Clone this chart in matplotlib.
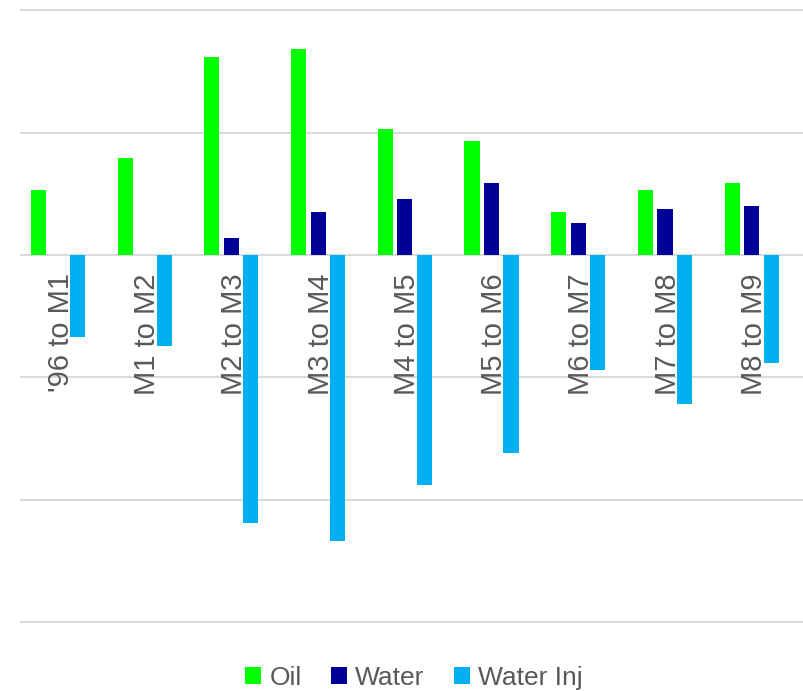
"""Grouped bar chart of oil, water and water injection changes between months."""
import matplotlib.pyplot as plt
import numpy as np
from matplotlib.patches import Patch

plt.rcParams['font.family'] = ['Liberation Sans', 'DejaVu Sans']

periods = ["'96 to M1", 'M1 to M2', 'M2 to M3', 'M3 to M4', 'M4 to M5',
           'M5 to M6', 'M6 to M7', 'M7 to M8', 'M8 to M9']
oil = [0.53, 0.79, 1.62, 1.68, 1.03, 0.93, 0.35, 0.53, 0.59]
water = [0.0, 0.0, 0.14, 0.35, 0.46, 0.59, 0.26, 0.38, 0.40]
water_inj = [-0.67, -0.74, -2.19, -2.34, -1.88, -1.62, -0.94, -1.22, -0.88]

series = ['Oil', 'Water', 'Water Inj']
colors = ['#00ff00', '#000099', '#00b0f0']
grid_ticks = [-3, -2, -1, 0, 1, 2]

text_gray = '#595959'
grid_gray = '#d9d9d9'

fig = plt.figure(figsize=(8.04, 6.91), dpi=100)
ax = fig.add_axes([0.0249, 0.0910, 0.9751, 0.9029])

x = np.arange(len(periods))
width = 0.175
offset = 0.225
for k, (vals, col) in enumerate(zip([oil, water, water_inj], colors)):
    ax.bar(x + (k - 1) * offset, vals, width, color=col, zorder=3)

ax.set_xlim(-0.438, 8.604)
ax.set_ylim(-3.05, 2.05)
ax.set_yticks(grid_ticks)
ax.yaxis.grid(True, color=grid_gray, linewidth=1.4)
ax.set_axisbelow(True)
ax.tick_params(left=False, bottom=False, labelleft=False, labelbottom=False)
for s in ax.spines.values():
    s.set_visible(False)

# category names sit just under the zero line
for i, name in enumerate(periods):
    ax.text(i + 0.03, -0.15, name, rotation=90, ha='center', va='top',
            fontsize=21, color=text_gray, zorder=4)

handles = [Patch(facecolor=c, edgecolor='none') for c in colors]
fig.legend(handles, series, loc='center', bbox_to_anchor=(0.515, 1 - 678 / 691),
           ncol=3, frameon=False, fontsize=19, labelcolor=text_gray,
           handlelength=0.6, handleheight=0.6, handletextpad=0.32,
           columnspacing=1.1)

fig.savefig('out.png', dpi=100)
